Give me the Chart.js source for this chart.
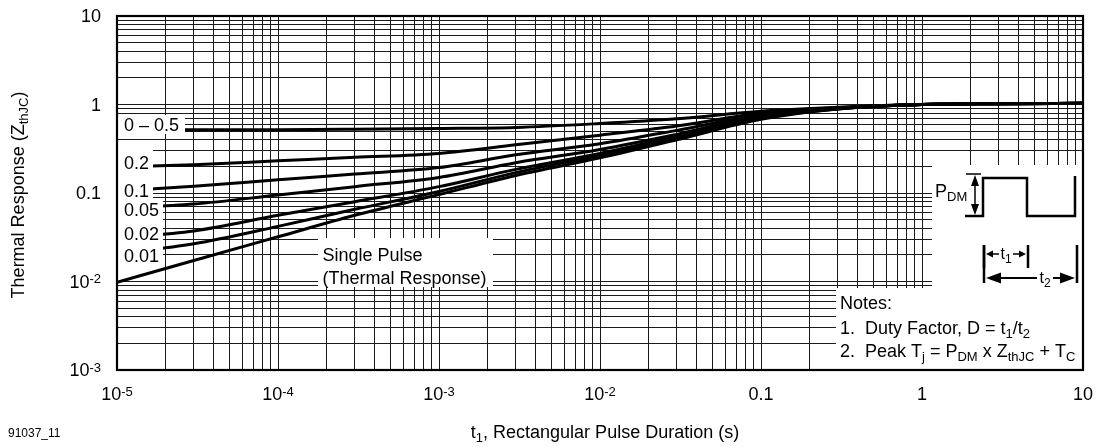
<!DOCTYPE html>
<html>
<head>
<meta charset="utf-8">
<script src="https://cdn.jsdelivr.net/npm/chart.js@4.4.1/dist/chart.umd.min.js"></script>
<style>
html,body{margin:0;padding:0;background:#fff;}
#wrap{width:1097px;height:447px;position:relative;}
</style>
</head>
<body>
<div id="wrap"><canvas id="c" width="1097" height="447"></canvas></div>
<script>
// ---- data ----
const tValues   = [1e-5, 3e-5, 1e-4, 3e-4, 1e-3, 3e-3, 1e-2, 3e-2, 0.1, 0.3, 1, 3, 10];
const zD050     = [0.52, 0.52, 0.52, 0.525, 0.535, 0.55, 0.61, 0.69, 0.84, 0.93, 1.0, 1.02, 1.03];
const zD020     = [0.197, 0.209, 0.231, 0.253, 0.28, 0.35, 0.45, 0.57, 0.80, 0.92, 1.0, 1.02, 1.03];
const zD010     = [0.105, 0.119, 0.141, 0.164, 0.194, 0.27, 0.36, 0.51, 0.77, 0.91, 1.0, 1.02, 1.03];
const zD005     = [0.067, 0.075, 0.095, 0.118, 0.150, 0.22, 0.31, 0.46, 0.74, 0.90, 1.0, 1.02, 1.03];
const zD002     = [0.031, 0.0373, 0.056, 0.0796, 0.118, 0.185, 0.28, 0.435, 0.71, 0.895, 1.0, 1.02, 1.03];
const zD001     = [0.0205, 0.0267, 0.042, 0.0654, 0.104, 0.17, 0.265, 0.41, 0.70, 0.89, 1.0, 1.02, 1.03];
const zSingle   = [0.0098, 0.0173, 0.032, 0.056, 0.096, 0.158, 0.25, 0.40, 0.68, 0.89, 1.0, 1.02, 1.03];
const seriesNames = ['0 \u2013 0.5', '0.2', '0.1', '0.05', '0.02', '0.01', 'Single Pulse'];

const xTickValues = [1e-5, 1e-4, 1e-3, 1e-2, 0.1, 1, 10];
const xTickLabels = [['10','-5'], ['10','-4'], ['10','-3'], ['10','-2'], ['0.1',''], ['1',''], ['10','']];
const yTickValues = [1e-3, 1e-2, 0.1, 1, 10];
const yTickLabels = [['10','-3'], ['10','-2'], ['0.1',''], ['1',''], ['10','']];
const xMin = 1e-5, xMax = 10, yMin = 1e-3, yMax = 10;

// ---- helpers ----
const FONT = '"Liberation Sans", Arial, Helvetica, sans-serif';
function gridValues(lo, hi) {
  const out = [];
  for (let e = Math.round(Math.log10(lo)); e < Math.round(Math.log10(hi)); e++) {
    for (let m = 1; m <= 9; m++) out.push(+(m * Math.pow(10, e)).toPrecision(3));
  }
  out.push(hi);
  return out;
}
// parts: [text, mode] mode 0 normal, 1 subscript, 2 superscript
function richWidth(ctx, parts, big, small) {
  let w = 0;
  for (const [t, m] of parts) {
    ctx.font = (m ? small : big) + 'px ' + FONT;
    w += ctx.measureText(t).width;
  }
  return w;
}
function drawRich(ctx, parts, x, y, align, big, small) {
  big = big || 18; small = small || 13;
  const w = richWidth(ctx, parts, big, small);
  let cx = x;
  if (align === 'center') cx = x - w / 2;
  else if (align === 'right') cx = x - w;
  ctx.textAlign = 'left';
  ctx.textBaseline = 'alphabetic';
  for (const [t, m] of parts) {
    ctx.font = (m ? small : big) + 'px ' + FONT;
    const dy = m === 1 ? 4 : (m === 2 ? -4.5 : 0);
    ctx.fillText(t, cx, y + dy);
    cx += ctx.measureText(t).width;
  }
}
function arrowHead(ctx, x, y, dir, len, half) {
  ctx.beginPath();
  if (dir === 'left')  { ctx.moveTo(x, y); ctx.lineTo(x + len, y - half); ctx.lineTo(x + len, y + half); }
  if (dir === 'right') { ctx.moveTo(x, y); ctx.lineTo(x - len, y - half); ctx.lineTo(x - len, y + half); }
  if (dir === 'up')    { ctx.moveTo(x, y); ctx.lineTo(x - half, y + len); ctx.lineTo(x + half, y + len); }
  if (dir === 'down')  { ctx.moveTo(x, y); ctx.lineTo(x - half, y - len); ctx.lineTo(x + half, y - len); }
  ctx.closePath();
  ctx.fill();
}
function whiteBox(ctx, x0, y0, x1, y1) {
  ctx.fillStyle = '#fff';
  ctx.fillRect(x0, y0, x1 - x0, y1 - y0);
  ctx.fillStyle = '#000';
}

const allSeries = [zD050, zD020, zD010, zD005, zD002, zD001, zSingle];
const datasets = allSeries.map((arr, i) => ({
  label: seriesNames[i],
  data: tValues.map((t, k) => ({ x: t, y: arr[k] })),
  borderColor: '#000',
  borderWidth: 3,
  pointRadius: 0,
  fill: false,
  cubicInterpolationMode: 'monotone'
}));

const decorPlugin = {
  id: 'decor',
  afterDatasetsDraw(chart) {
    const ctx = chart.ctx;
    const ca = chart.chartArea;
    const L = ca.left, R = ca.right, T = ca.top, B = ca.bottom;
    const xs = chart.scales.x, ys = chart.scales.y;
    ctx.save();
    ctx.fillStyle = '#000';
    ctx.strokeStyle = '#000';

    // ---- curve labels (white boxes) ----
    whiteBox(ctx, L + 1, T + 99, L + 68, T + 118);          // 0 - 0.5
    whiteBox(ctx, L + 1, T + 128, L + 36, T + 249);         // column 0.2 .. 0.01
    whiteBox(ctx, L + 1, T + 184, L + 46, T + 249);         // wider rows 0.05 .. 0.01
    const labY = [130.7, 169, 197, 216, 240, 261.5];
    for (let i = 0; i < 6; i++) {
      drawRich(ctx, [[seriesNames[i], 0]], L + 7, labY[i], 'left');
    }
    // single pulse box
    whiteBox(ctx, L + 201, T + 222, L + 376, T + 271);
    drawRich(ctx, [['Single Pulse', 0]], L + 205.5, 260.5, 'left');
    drawRich(ctx, [['(Thermal Response)', 0]], L + 205.5, 284, 'left');

    // ---- pulse diagram box ----
    whiteBox(ctx, R - 151, B - 205, R, B - 82);
    // notes box
    whiteBox(ctx, R - 247, B - 82, R, B);
    drawRich(ctx, [['Notes:', 0]], R - 243, B - 61, 'left');
    drawRich(ctx, [['1.  Duty Factor, D = t', 0], ['1', 1], ['/t', 0], ['2', 1]], R - 243, B - 36, 'left');
    drawRich(ctx, [['2.  Peak T', 0], ['j', 1], [' = P', 0], ['DM', 1], [' x Z', 0], ['thJC', 1], [' + T', 0], ['C', 1]], R - 243, B - 13.5, 'left');

    // waveform
    ctx.lineWidth = 2.5;
    ctx.lineJoin = 'miter';
    ctx.beginPath();
    ctx.moveTo(R - 118, B - 154);
    ctx.lineTo(R - 100, B - 154);
    ctx.lineTo(R - 100, B - 192);
    ctx.lineTo(R - 56, B - 192);
    ctx.lineTo(R - 56, B - 154);
    ctx.lineTo(R - 8, B - 154);
    ctx.lineTo(R - 8, B - 194);
    ctx.stroke();
    // PDM arrow
    ctx.lineWidth = 1.5;
    ctx.beginPath();
    ctx.moveTo(R - 117, B - 196); ctx.lineTo(R - 102, B - 196);
    ctx.moveTo(R - 108, B - 186); ctx.lineTo(R - 108, B - 164);
    ctx.stroke();
    arrowHead(ctx, R - 108, B - 195, 'up', 11, 4);
    arrowHead(ctx, R - 108, B - 155, 'down', 11, 4);
    drawRich(ctx, [['P', 0], ['DM', 1]], R - 148, B - 173, 'left', 18, 13);
    // t1 marker
    ctx.lineWidth = 2.5;
    ctx.beginPath();
    ctx.moveTo(R - 99, B - 125); ctx.lineTo(R - 99, B - 102);
    ctx.moveTo(R - 55, B - 125); ctx.lineTo(R - 55, B - 102);
    ctx.stroke();
    ctx.lineWidth = 1.5;
    ctx.beginPath();
    ctx.moveTo(R - 92, B - 116); ctx.lineTo(R - 84, B - 116);
    ctx.moveTo(R - 70, B - 116); ctx.lineTo(R - 62, B - 116);
    ctx.stroke();
    arrowHead(ctx, R - 97, B - 116, 'left', 7, 3.5);
    arrowHead(ctx, R - 57, B - 116, 'right', 7, 3.5);
    drawRich(ctx, [['t', 0], ['1', 1]], R - 77, B - 111, 'center', 16, 12);
    // t2 marker
    ctx.lineWidth = 2.5;
    ctx.beginPath();
    ctx.moveTo(R - 99, B - 125); ctx.lineTo(R - 99, B - 87);
    ctx.moveTo(R - 6, B - 125); ctx.lineTo(R - 6, B - 87);
    ctx.stroke();
    ctx.lineWidth = 2;
    ctx.beginPath();
    ctx.moveTo(R - 85, B - 92); ctx.lineTo(R - 46, B - 92);
    ctx.moveTo(R - 30, B - 92); ctx.lineTo(R - 20, B - 92);
    ctx.stroke();
    arrowHead(ctx, R - 97, B - 92, 'left', 15, 5.5);
    arrowHead(ctx, R - 8, B - 92, 'right', 15, 5.5);
    drawRich(ctx, [['t', 0], ['2', 1]], R - 38, B - 87, 'center', 16, 12);

    // ---- frame ----
    ctx.lineWidth = 2.2;
    ctx.strokeRect(L, T, R - L, B - T);

    // ---- tick labels ----
    ctx.fillStyle = '#000';
    xTickValues.forEach((v, i) => {
      const px = xs.getPixelForValue(v);
      const [m, e] = xTickLabels[i];
      drawRich(ctx, e ? [[m, 0], [e, 2]] : [[m, 0]], px, B + 30, 'center', 18, 13);
    });
    yTickValues.forEach((v, i) => {
      const py = ys.getPixelForValue(v);
      const [m, e] = yTickLabels[i];
      drawRich(ctx, e ? [[m, 0], [e, 2]] : [[m, 0]], L - 16, py + 6.4, 'right', 18, 13);
    });

    // ---- axis titles ----
    drawRich(ctx, [['t', 0], ['1', 1], [', Rectangular Pulse Duration (s)', 0]], (L + R) / 2 + 5, 438, 'center', 18, 13);
    ctx.save();
    ctx.translate(24, (T + B) / 2 + 2);
    ctx.rotate(-Math.PI / 2);
    drawRich(ctx, [['Thermal Response (Z', 0], ['thJC', 1], [')', 0]], 0, 0, 'center', 18, 13);
    ctx.restore();
    // figure id
    drawRich(ctx, [['91037_11', 0]], 8, 437, 'left', 12, 10);
    ctx.restore();
  }
};

const gridX = gridValues(xMin, xMax);
const gridY = gridValues(yMin, yMax);

new Chart(document.getElementById('c'), {
  type: 'line',
  data: { datasets },
  options: {
    responsive: false,
    animation: false,
    devicePixelRatio: 1,
    layout: { padding: { left: 117, right: 14, top: 16, bottom: 77 } },
    plugins: { legend: { display: false }, tooltip: { enabled: false } },
    scales: {
      x: {
        type: 'logarithmic', min: xMin, max: xMax,
        afterBuildTicks: (s) => { s.ticks = gridX.map(v => ({ value: v })); },
        ticks: { display: false },
        grid: { color: '#1a1a1a', lineWidth: 1, drawTicks: false },
        border: { display: false }
      },
      y: {
        type: 'logarithmic', min: yMin, max: yMax,
        afterBuildTicks: (s) => { s.ticks = gridY.map(v => ({ value: v })); },
        ticks: { display: false },
        grid: { color: '#1a1a1a', lineWidth: 1, drawTicks: false },
        border: { display: false }
      }
    }
  },
  plugins: [decorPlugin]
});
</script>
</body>
</html>
